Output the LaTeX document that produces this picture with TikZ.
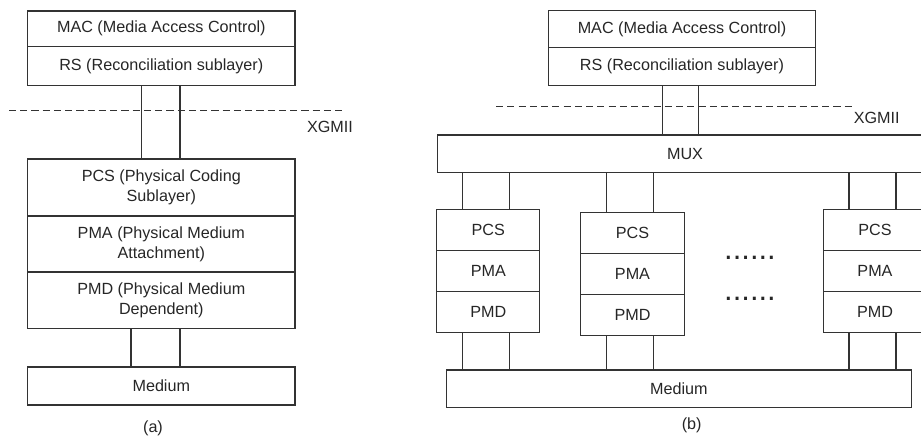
\documentclass[tikz,border=0pt]{standalone}
\usepackage{fontspec}
\setmainfont{Liberation Sans}
\usetikzlibrary{positioning}

\begin{document}
\begin{tikzpicture}[x=0.025cm,y=-0.025cm]
\tikzset{box/.style = {shape=rectangle,draw=black!80,line width=0.8pt,inner sep=0pt,outer sep=0pt,align=center,text=black!85,font=\fontsize{11.5}{14.2}\selectfont}}
\tikzset{wide/.style = {box,minimum width=6.68cm}}
\tikzset{layer/.style = {box,minimum width=2.58cm,minimum height=1.025cm}}
\tikzset{link/.style = {draw=black!80,line width=0.8pt}}
\tikzset{cut/.style = {draw=black!80,line width=0.7pt,dash pattern=on 5pt off 3pt}}
\tikzset{caption/.style = {text=black!85,font=\fontsize{11.5}{14.2}\selectfont}}
\tikzset{dots/.style = {text=black!85,anchor=base,font=\fontsize{22}{22}\selectfont}}
\useasboundingbox (0,0) rectangle (921,437);
\clip (0,0) rectangle (921,437);

% (a) vertices
\node[wide,minimum height=0.89cm] (macA) at (161.3,28.8) {MAC (Media Access Control)};
\node[wide,minimum height=0.975cm,below=0pt of macA] (rsA) {RS (Reconciliation sublayer)};
\node[wide,minimum height=1.425cm] (pcsA) at (161.3,187.5) {PCS (Physical Coding\\Sublayer)};
\node[wide,minimum height=1.4cm,below=0pt of pcsA] (pmaA) {PMA (Physical Medium\\Attachment)};
\node[wide,minimum height=1.42cm,below=0pt of pmaA] (pmdA) {PMD (Physical Medium\\Dependent)};
\node[wide,minimum height=0.95cm] (medA) at (161.3,386) {Medium};
\coordinate (xgA1) at (9,110);
\coordinate (xgA2) at (342,110);
\node[caption] (xgmiiA) at (330,127) {XGMII};
\node[caption] (capA) at (153,428) {(a)};

% (a) edges
\draw[cut] (xgA1) -- (xgA2);
\foreach \dx in {-0.49,0.4675}
  \draw[link] ([xshift=\dx cm]rsA.south) -- ([xshift=\dx cm]rsA.south |- pcsA.north);
\foreach \dx in {-0.7575,0.4675}
  \draw[link] ([xshift=\dx cm]pmdA.south) -- ([xshift=\dx cm]pmdA.south |- medA.north);

% (b) vertices
\node[wide,minimum height=0.92cm] (macB) at (682,29.3) {MAC (Media Access Control)};
\node[wide,minimum height=0.95cm,below=0pt of macB] (rsB) {RS (Reconciliation sublayer)};
\node[box,minimum width=12.385cm,minimum height=0.94cm] (muxB) at (685,153.85) {MUX};
\foreach \i/\x/\y in {1/488.3/229.8,2/632.5/232.8,3/875/229.8} {
  \node[layer] (pcs\i) at (\x,\y) {PCS};
  \node[layer,below=0pt of pcs\i] (pma\i) {PMA};
  \node[layer,below=0pt of pma\i] (pmd\i) {PMD};
}
\node[box,minimum width=11.61cm,minimum height=0.94cm] (medB) at (678.8,388.8) {Medium};
\node[dots] (dotsU) at (750,259.8) {......};
\node[dots] (dotsL) at (750,300.5) {......};
\coordinate (xgB1) at (496,106.7);
\coordinate (xgB2) at (853,106.7);
\node[caption] (xgmiiB) at (876.7,118) {XGMII};
\node[caption] (capB) at (691.7,425) {(b)};

% (b) edges
\draw[cut] (xgB1) -- (xgB2);
\foreach \dx in {-0.4925,0.4175}
  \draw[link] ([xshift=\dx cm]rsB.south) -- ([xshift=\dx cm]rsB.south |- muxB.north);
\foreach \i in {1,2,3}
  \foreach \dx in {-0.65,0.525} {
    \draw[link] ([xshift=\dx cm]pcs\i.north) -- ([xshift=\dx cm]pcs\i.north |- muxB.south);
    \draw[link] ([xshift=\dx cm]pmd\i.south) -- ([xshift=\dx cm]pmd\i.south |- medB.north);
  }

\end{tikzpicture}
\end{document}
